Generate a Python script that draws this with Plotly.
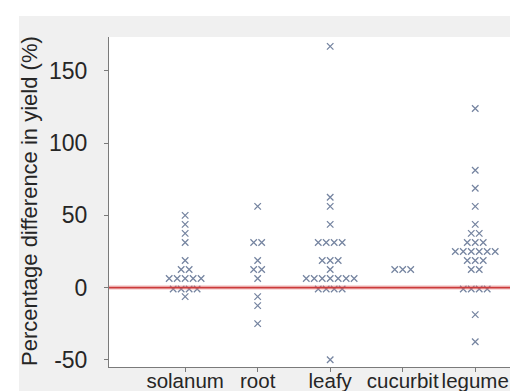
import plotly.graph_objects as go
from collections import Counter

# ---- data ----
categories = ["solanum", "root", "leafy", "cucurbit", "legume"]

solanum = [50, 43.75, 37.5, 31.25, 18.75, 12.5, 12.5,
           6.25, 6.25, 6.25, 6.25, 6.25, -1, -1, -1, -1, -6.25]
root = [56.25, 31.25, 31.25, 18.75, 12.5, 12.5, 6.25, -6.25, -12.5, -25]
leafy = [167, 62.5, 56.25, 43.75, 31.25, 31.25, 31.25, 31.25,
         18.75, 18.75, 18.75, 12.5,
         6.25, 6.25, 6.25, 6.25, 6.25, 6.25, 6.25,
         -1, -1, -1, -1, -50]
cucurbit = [12.5, 12.5, 12.5]
legume = [124, 81.25, 68.75, 56.25, 43.75, 37.5, 37.5, 31.25, 31.25, 31.25,
          25, 25, 25, 25, 25, 25, 18.75, 18.75, 18.75, 12.5, 12.5,
          -1, -1, -1, -1, -18.75, -37.5]

series = [solanum, root, leafy, cucurbit, legume]
y_tick_values = [-50, 0, 50, 100, 150]
y_tick_labels = [str(v) for v in y_tick_values]
reference_value = 0

# ---- dot-plot layout: equal values are spread side by side ----
SPREAD = 0.11
xs, ys = [], []
for i, vals in enumerate(series):
    counts = Counter(vals)
    for v, n in counts.items():
        for k in range(n):
            xs.append(i + (k - (n - 1) / 2) * SPREAD)
            ys.append(v)

W, H = 518, 391
L, R, T, B = 101, 0, 29, 32
pw, ph = W - L - R, H - T - B


def px_x(p):
    return (p - L) / pw


def px_y(p):
    return (H - B - p) / ph


fig = go.Figure()
fig.add_trace(go.Scatter(
    x=xs, y=ys, mode="markers",
    marker=dict(symbol="x-thin", size=6.5, line=dict(width=1.25, color="#7584a0"),
                color="#7584a0"),
    hoverinfo="skip", showlegend=False,
))

TEXT = "#262626"
AX = "#7a7a7a"

fig.update_layout(
    width=W, height=H,
    margin=dict(l=L, r=R, t=T, b=B, pad=0, autoexpand=False),
    paper_bgcolor="#f0f0f0",
    plot_bgcolor="white",
    font=dict(family="Liberation Sans, Arial, sans-serif", color=TEXT, size=21),
    xaxis=dict(
        range=[-1.05, 4.7], tickmode="array", tickvals=list(range(len(categories))),
        ticktext=categories, showgrid=False, zeroline=False,
        showline=True, linecolor=AX, linewidth=1,
        ticks="outside", ticklen=4, tickcolor=AX, tickwidth=1,
        tickangle=0, automargin=False,
        ticklabelstandoff=-9,
        tickfont=dict(size=20.5, color=TEXT),
    ),
    yaxis=dict(
        range=[-55, 173.5], tickmode="array", tickvals=y_tick_values,
        ticktext=y_tick_labels,
        showgrid=False, zeroline=False,
        showline=True, linecolor=AX, linewidth=1,
        ticks="outside", ticklen=4, tickcolor=AX, tickwidth=1,
        automargin=False,
        ticklabelstandoff=12,
        tickfont=dict(size=23, color=TEXT),
    ),
    shapes=[
        # white screenshot border (top and left)
        dict(type="rect", xref="paper", yref="paper", x0=px_x(0), x1=px_x(W),
             y0=px_y(8), y1=px_y(0), fillcolor="white", line=dict(width=0), layer="below"),
        dict(type="rect", xref="paper", yref="paper", x0=px_x(0), x1=px_x(11),
             y0=px_y(H), y1=px_y(0), fillcolor="white", line=dict(width=0), layer="below"),
        # reference line
        dict(type="line", xref="paper", x0=0, x1=1, yref="y",
             y0=reference_value, y1=reference_value,
             line=dict(color="rgba(225,120,120,0.35)", width=4.5), layer="above"),
        dict(type="line", xref="paper", x0=0, x1=1, yref="y",
             y0=reference_value, y1=reference_value,
             line=dict(color="#cc3b3b", width=1.8), layer="above"),
    ],
    annotations=[
        dict(text="Percentage difference in yield (%)", textangle=-90,
             xref="paper", yref="paper", x=px_x(21), y=px_y(193),
             xanchor="center", yanchor="middle", showarrow=False,
             font=dict(size=22, color=TEXT)),
    ],
)

fig.write_html("out.html")
